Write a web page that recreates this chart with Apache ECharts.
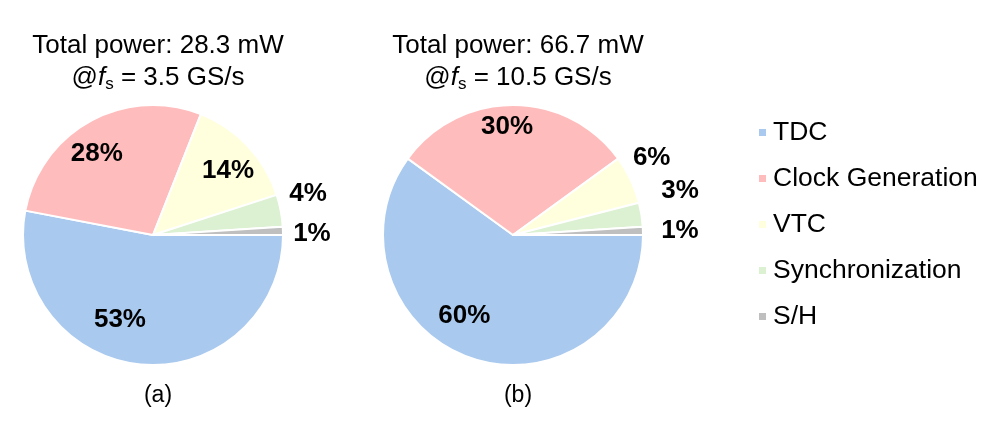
<!DOCTYPE html>
<html style="height: 100%">
<head>
    <meta charset="utf-8">
    <script src="https://cdn.jsdelivr.net/npm/echarts@6/dist/echarts.min.js"></script>
</head>
<body style="height: 100%; margin: 0; background: #fff">
<div id="container" style="width: 997px; height: 421px"></div>

<script type="text/javascript">
    // data
    var categories = ['TDC', 'Clock Generation', 'VTC', 'Synchronization', 'S/H'];
    var colors = ['#a9c9ee', '#ffbcbc', '#ffffdd', '#dcf0d2', '#bfbfbf'];
    var sharesA = [53, 28, 14, 4, 1];
    var sharesB = [60, 30, 6, 3, 1];
    var titlesA = ['Total power: 28.3 mW', ' = 3.5 GS/s'];
    var titlesB = ['Total power: 66.7 mW', ' = 10.5 GS/s'];
    var captions = ['(a)', '(b)'];

    // label nudges (px) so the percentages sit like in the figure
    var nudgeA = [[-24, -11], [-10, 3], [5, 2], [-3, -11], [-2, 4]];
    var nudgeB = [[-19, -10], [-6, -12], [-7, -9], [8, -19], [6, 1]];

    var font = 'Liberation Sans, Arial, sans-serif';
    var dom = document.getElementById('container');
    var myChart = echarts.init(dom);

    function buildData(values, smallOnly) {
        return values.map(function (v, i) {
            var big = v >= 10;
            return {
                name: categories[i],
                value: v,
                label: {show: smallOnly ? !big : big}
            };
        });
    }

    function pieSeries(values, cx, nudge) {
        var center = [cx, 235];
        var base = {
            type: 'pie',
            center: center,
            startAngle: 0,
            clockwise: true,
            animation: false,
            silent: true,
            avoidLabelOverlap: false,
            labelLine: {show: false},
            label: {
                position: 'inside',
                formatter: '{c}%',
                color: '#000',
                fontFamily: font,
                fontWeight: 'bold',
                fontSize: 26
            },
            labelLayout: function (p) {
                var n = nudge[p.dataIndex];
                return {dx: n[0], dy: n[1]};
            }
        };
        var main = Object.assign({}, base, {
            radius: [0, 130],
            label: {show: false},
            labelLayout: null,
            itemStyle: {
                color: function (p) { return colors[p.dataIndex]; },
                borderColor: '#fff',
                borderWidth: 2
            },
            data: values.map(function (v, i) { return {name: categories[i], value: v}; })
        });
        // transparent rings that only carry the labels
        var inner = Object.assign({}, base, {
            radius: [0, 186],
            itemStyle: {color: 'rgba(0,0,0,0)'},
            data: buildData(values, false)
        });
        var outer = Object.assign({}, base, {
            radius: [150, 166],
            itemStyle: {color: 'rgba(0,0,0,0)'},
            data: buildData(values, true)
        });
        return [main, inner, outer];
    }

    function titleItem(lines, cx) {
        var n = {fontFamily: font, fontSize: 26, fontWeight: 'normal', color: '#000', lineHeight: 32};
        return {
            left: cx,
            top: 25,
            textAlign: 'center',
            text: '{n|' + lines[0] + '}\n{n|@}{i|f}{s|s}{n|' + lines[1] + '}',
            textStyle: {
                fontWeight: 'normal',
                rich: {
                    n: n,
                    i: Object.assign({}, n, {fontStyle: 'italic'}),
                    s: Object.assign({}, n, {fontSize: 17, padding: [12, 0, 0, 0]})
                }
            }
        };
    }

    function captionItem(text, cx) {
        return {
            left: cx,
            top: 379,
            textAlign: 'center',
            text: text,
            textStyle: {fontFamily: font, fontSize: 23, fontWeight: 'normal', color: '#000'}
        };
    }

    option = {
        backgroundColor: '#fff',
        color: colors,
        title: [
            titleItem(titlesA, 153),
            titleItem(titlesB, 513),
            captionItem(captions[0], 153),
            captionItem(captions[1], 513)
        ],
        legend: {
            data: categories,
            orient: 'vertical',
            left: 752,
            top: 114,
            icon: 'rect',
            itemWidth: 9,
            itemHeight: 9,
            itemGap: 19,
            selectedMode: false,
            textStyle: {fontFamily: font, fontSize: 26.5, color: '#000', lineHeight: 26, padding: [0, 0, 0, 1]}
        },
        series: pieSeries(sharesA, 153, nudgeA).concat(pieSeries(sharesB, 513, nudgeB))
    };

    if (option && typeof option === "object") {
        myChart.setOption(option, true);
    }
</script>
</body>
</html>
